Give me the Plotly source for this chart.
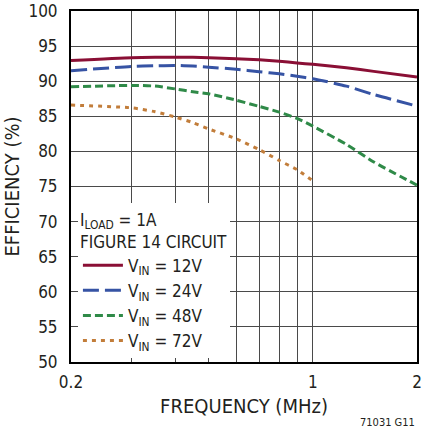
import plotly.graph_objects as go

# frequency in MHz
freq = [0.2, 0.3, 0.35, 0.4, 0.45, 0.5, 0.6, 0.7, 0.8, 0.9, 1.0, 1.25, 1.5, 2.0]
freq_72 = [0.2, 0.3, 0.35, 0.4, 0.45, 0.5, 0.6, 0.7, 0.8, 0.9, 1.0]

# efficiency in %
eff_12v = [92.95, 93.35, 93.4, 93.4, 93.4, 93.35, 93.2, 93.05, 92.85, 92.6, 92.4, 91.9, 91.4, 90.6]
eff_24v = [91.5, 92.1, 92.2, 92.25, 92.15, 92.0, 91.7, 91.35, 91.05, 90.7, 90.35, 89.3, 88.1, 86.45]
eff_48v = [89.2, 89.4, 89.3, 88.9, 88.5, 88.2, 87.3, 86.4, 85.6, 84.7, 83.6, 81.0, 78.5, 75.2]
eff_72v = [86.6, 86.2, 85.65, 84.9, 84.1, 83.2, 81.8, 80.25, 78.7, 77.4, 75.8]

series = [
  ('V<sub>IN</sub> = 12V', freq, eff_12v, '#8a0f35', 'solid'),
  ('V<sub>IN</sub> = 24V', freq, eff_24v, '#3653a4', '16px,6px'),
  ('V<sub>IN</sub> = 48V', freq, eff_48v, '#2f8a48', '8px,4px'),
  ('V<sub>IN</sub> = 72V', freq_72, eff_72v, '#c27d3a', '4px,5px'),
]

x_grid = [0.2, 0.3, 0.4, 0.5, 0.6, 0.7, 0.8, 0.9, 1, 2]
x_labels = ['0.2', '', '', '', '', '', '', '', '1', '2']
y_ticks = list(range(50, 101, 5))

font_family = 'DejaVu Sans Condensed, Liberation Sans Narrow, sans-serif'
text_color = '#231f20'

fig = go.Figure()
for name, x, y, color, dash in series:
  fig.add_trace(go.Scatter(x=x, y=y, mode='lines', name=name,
                           line=dict(color=color, width=3, dash=dash, shape='spline', smoothing=0.6)))

fig.update_xaxes(type='log', range=[-0.69897, 0.30103], tickvals=x_grid, ticktext=x_labels,
                 showgrid=True, gridcolor='#4a4a4a', gridwidth=1,
                 showline=True, linecolor='black', linewidth=2, mirror=True, ticks='',
                 ticklabeloverflow='allow', ticklabelstandoff=4,
                 title=dict(text='FREQUENCY (MHz)', standoff=8))
fig.update_yaxes(range=[50, 100], tickvals=y_ticks,
                 showgrid=True, gridcolor='#4a4a4a', gridwidth=1,
                 showline=True, linecolor='black', linewidth=2, mirror=True, ticks='',
                 ticklabeloverflow='allow', ticklabelstandoff=8,
                 title=dict(text='EFFICIENCY (%)', standoff=4))

fig.add_annotation(text='71031 G11', xref='paper', yref='paper', x=1.0, y=-0.173,
                   xanchor='right', yanchor='middle', showarrow=False,
                   font=dict(size=11, color=text_color))

fig.update_layout(
  width=423, height=433,
  margin=dict(l=71, r=1, t=10, b=71),
  plot_bgcolor='white', paper_bgcolor='white',
  font=dict(family=font_family, size=17, color=text_color),
  legend=dict(x=0.02, y=0.01, xanchor='left', yanchor='bottom',
              bgcolor='white', borderwidth=0, tracegroupgap=0, itemwidth=40,
              title=dict(text='I<sub>LOAD</sub> = 1A<br>FIGURE 14 CIRCUIT', side='top',
                         font=dict(size=17, color=text_color)),
              font=dict(size=17, color=text_color)),
)

# page body has an 8px default margin; drop it so the figure sits at the corner
fig.write_html('out.html', config={'displayModeBar': False},
               post_script="document.body.style.margin='0';")
